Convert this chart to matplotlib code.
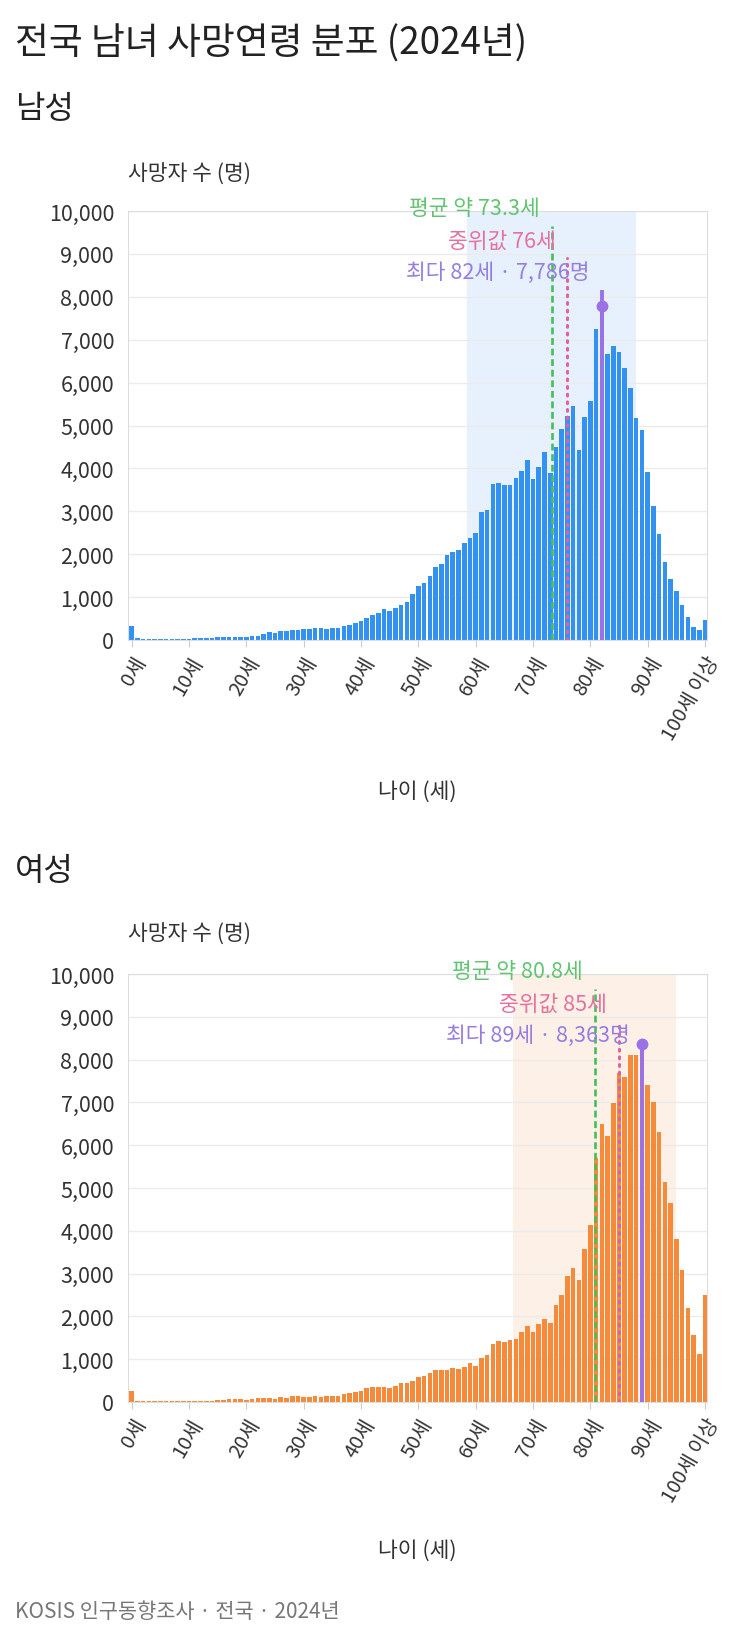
import matplotlib
matplotlib.use('Agg')
import matplotlib.pyplot as plt
from matplotlib.ticker import MultipleLocator, FuncFormatter

plt.rcParams['font.family'] = ['Noto Sans CJK KR', 'DejaVu Sans']

# ages 0..99 plus "100세 이상"
ages = list(range(101))
tick_ages = [0, 10, 20, 30, 40, 50, 60, 70, 80, 90, 100]
tick_labels = ['0세', '10세', '20세', '30세', '40세', '50세', '60세', '70세',
               '80세', '90세', '100세 이상']

male_deaths = [
    325, 40, 25, 15, 15, 15, 15, 15, 15, 15,
    15, 40, 40, 45, 55, 60, 60, 70, 75, 75,
    75, 100, 100, 145, 175, 155, 210, 210, 240, 240,
    260, 260, 285, 285, 260, 270, 290, 315, 345, 390,
    445, 520, 585, 640, 715, 675, 755, 815, 875, 1070,
    1255, 1340, 1500, 1700, 1760, 1980, 2050, 2100, 2270, 2380,
    2500, 2990, 3040, 3640, 3650, 3620, 3610, 3780, 3930, 4200,
    3760, 4040, 4390, 3890, 4490, 4930, 5220, 5450, 4430, 5190,
    5570, 7260, 7786, 6660, 6860, 6720, 6330, 5870, 5180, 4890,
    3920, 3120, 2480, 1820, 1430, 1140, 820, 530, 300, 230,
    470,
]

female_deaths = [
    255, 30, 20, 12, 12, 12, 12, 12, 12, 12,
    12, 20, 20, 30, 30, 45, 40, 60, 60, 60,
    55, 75, 85, 95, 95, 70, 115, 85, 130, 130,
    125, 125, 145, 125, 130, 140, 130, 180, 200, 225,
    265, 325, 350, 340, 355, 320, 365, 435, 435, 495,
    590, 600, 670, 750, 750, 740, 800, 780, 825, 910,
    850, 1035, 1100, 1345, 1425, 1400, 1450, 1465, 1625, 1775,
    1640, 1815, 1930, 1845, 2270, 2490, 2950, 3135, 2840, 3570,
    4125, 5700, 6490, 6220, 6990, 7680, 7595, 8100, 8100, 8363,
    7400, 7010, 6310, 5150, 4660, 3805, 3080, 2185, 1565, 1120,
    2500,
]

male_mean, male_median, male_mode = 73.3, 76, 82
female_mean, female_median, female_mode = 80.8, 85, 89
male_band = (58.5, 88.0)
female_band = (66.5, 95.0)

GREEN_LINE = '#45bf5a'
GREEN_TEXT = '#62c472'
PINK_LINE = '#e0629b'
PINK_TEXT = '#e6719f'
PURPLE = '#9a72e6'
PURPLE_TEXT = '#957ee0'

W, H = 740, 1649
fig = plt.figure(figsize=(W / 100, H / 100), dpi=100)


def fy(px):
    return 1 - px / H


def draw_panel(top, bottom, deaths, color, band, band_color, mean, median, mode):
    ax = fig.add_axes([128 / W, fy(bottom), 579 / W, (bottom - top) / H])
    ax.axvspan(band[0], band[1], color=band_color, zorder=0, lw=0)
    ax.bar(ages, deaths, width=0.8, color=color, zorder=2)

    ax.vlines(mean, 0, 9650, colors=GREEN_LINE, linestyles=(0, (2.6, 1.4)),
              lw=1.9, zorder=4)
    med = ax.vlines(median, 0, 8900, colors=PINK_LINE, linestyles=(0, (0.6, 1.9)),
                    lw=2.2, zorder=4)
    med.set_capstyle('round')
    mode_count = deaths[mode]
    ax.vlines(mode, 0, max(mode_count, 8150), colors=PURPLE, lw=2.8, zorder=4)
    ax.plot([mode], [mode_count], 'o', ms=7.5, color=PURPLE, zorder=5)

    kw = dict(textcoords='offset points', xytext=(-8.5, 0), ha='right',
              va='center', fontsize=15.5, annotation_clip=False, zorder=6)
    ax.annotate('평균 약 %.1f세' % mean, xy=(mean, 10060), color=GREEN_TEXT, **kw)
    ax.annotate('중위값 %d세' % median, xy=(median, 9310), color=PINK_TEXT, **kw)
    ax.annotate('최다 %d세 · %s명' % (mode, format(mode_count, ',')),
                xy=(mode, 8570), color=PURPLE_TEXT, **kw)

    ax.set_xlim(-0.65, 100.35)
    ax.set_ylim(0, 10000)
    ax.yaxis.set_major_locator(MultipleLocator(1000))
    ax.yaxis.set_major_formatter(FuncFormatter(lambda v, p: format(int(v), ',')))
    ax.set_xticks(tick_ages)
    ax.set_xticklabels(tick_labels, rotation=60, ha='right', va='top',
                       rotation_mode='anchor')
    ax.tick_params(axis='y', length=0, pad=10, labelsize=15.5, labelcolor='#333333')
    ax.tick_params(axis='x', length=5, color='#cccccc', pad=4, labelsize=14.5,
                   labelcolor='#333333')
    ax.grid(axis='y', color='#ebebeb', lw=1, zorder=1)
    ax.set_axisbelow(True)
    for s in ax.spines.values():
        s.set_color('#dddddd')
    return ax


fig.text(15 / W, fy(44), '전국 남녀 사망연령 분포 (2024년)', fontsize=26.5,
         color='#222222', va='center', ha='left')

# male
fig.text(15 / W, fy(109), '남성', fontsize=23, color='#222222', va='center')
fig.text(128 / W, fy(175), '사망자 수 (명)', fontsize=15.5, color='#333333', va='center')
draw_panel(212, 641, male_deaths, '#3391f2', male_band, '#e7f0fd',
           male_mean, male_median, male_mode)
fig.text(417.5 / W, fy(792), '나이 (세)', fontsize=15.5, color='#333333',
         ha='center', va='center')

# female
fig.text(15 / W, fy(871), '여성', fontsize=23, color='#222222', va='center')
fig.text(128 / W, fy(935), '사망자 수 (명)', fontsize=15.5, color='#333333', va='center')
draw_panel(975, 1403, female_deaths, '#f58a3b', female_band, '#fdf0e6',
           female_mean, female_median, female_mode)
fig.text(417.5 / W, fy(1551), '나이 (세)', fontsize=15.5, color='#333333',
         ha='center', va='center')

fig.text(15 / W, fy(1612), 'KOSIS 인구동향조사 · 전국 · 2024년', fontsize=15,
         color='#777777', va='center')

fig.savefig('out.png', dpi=100, facecolor='white')
